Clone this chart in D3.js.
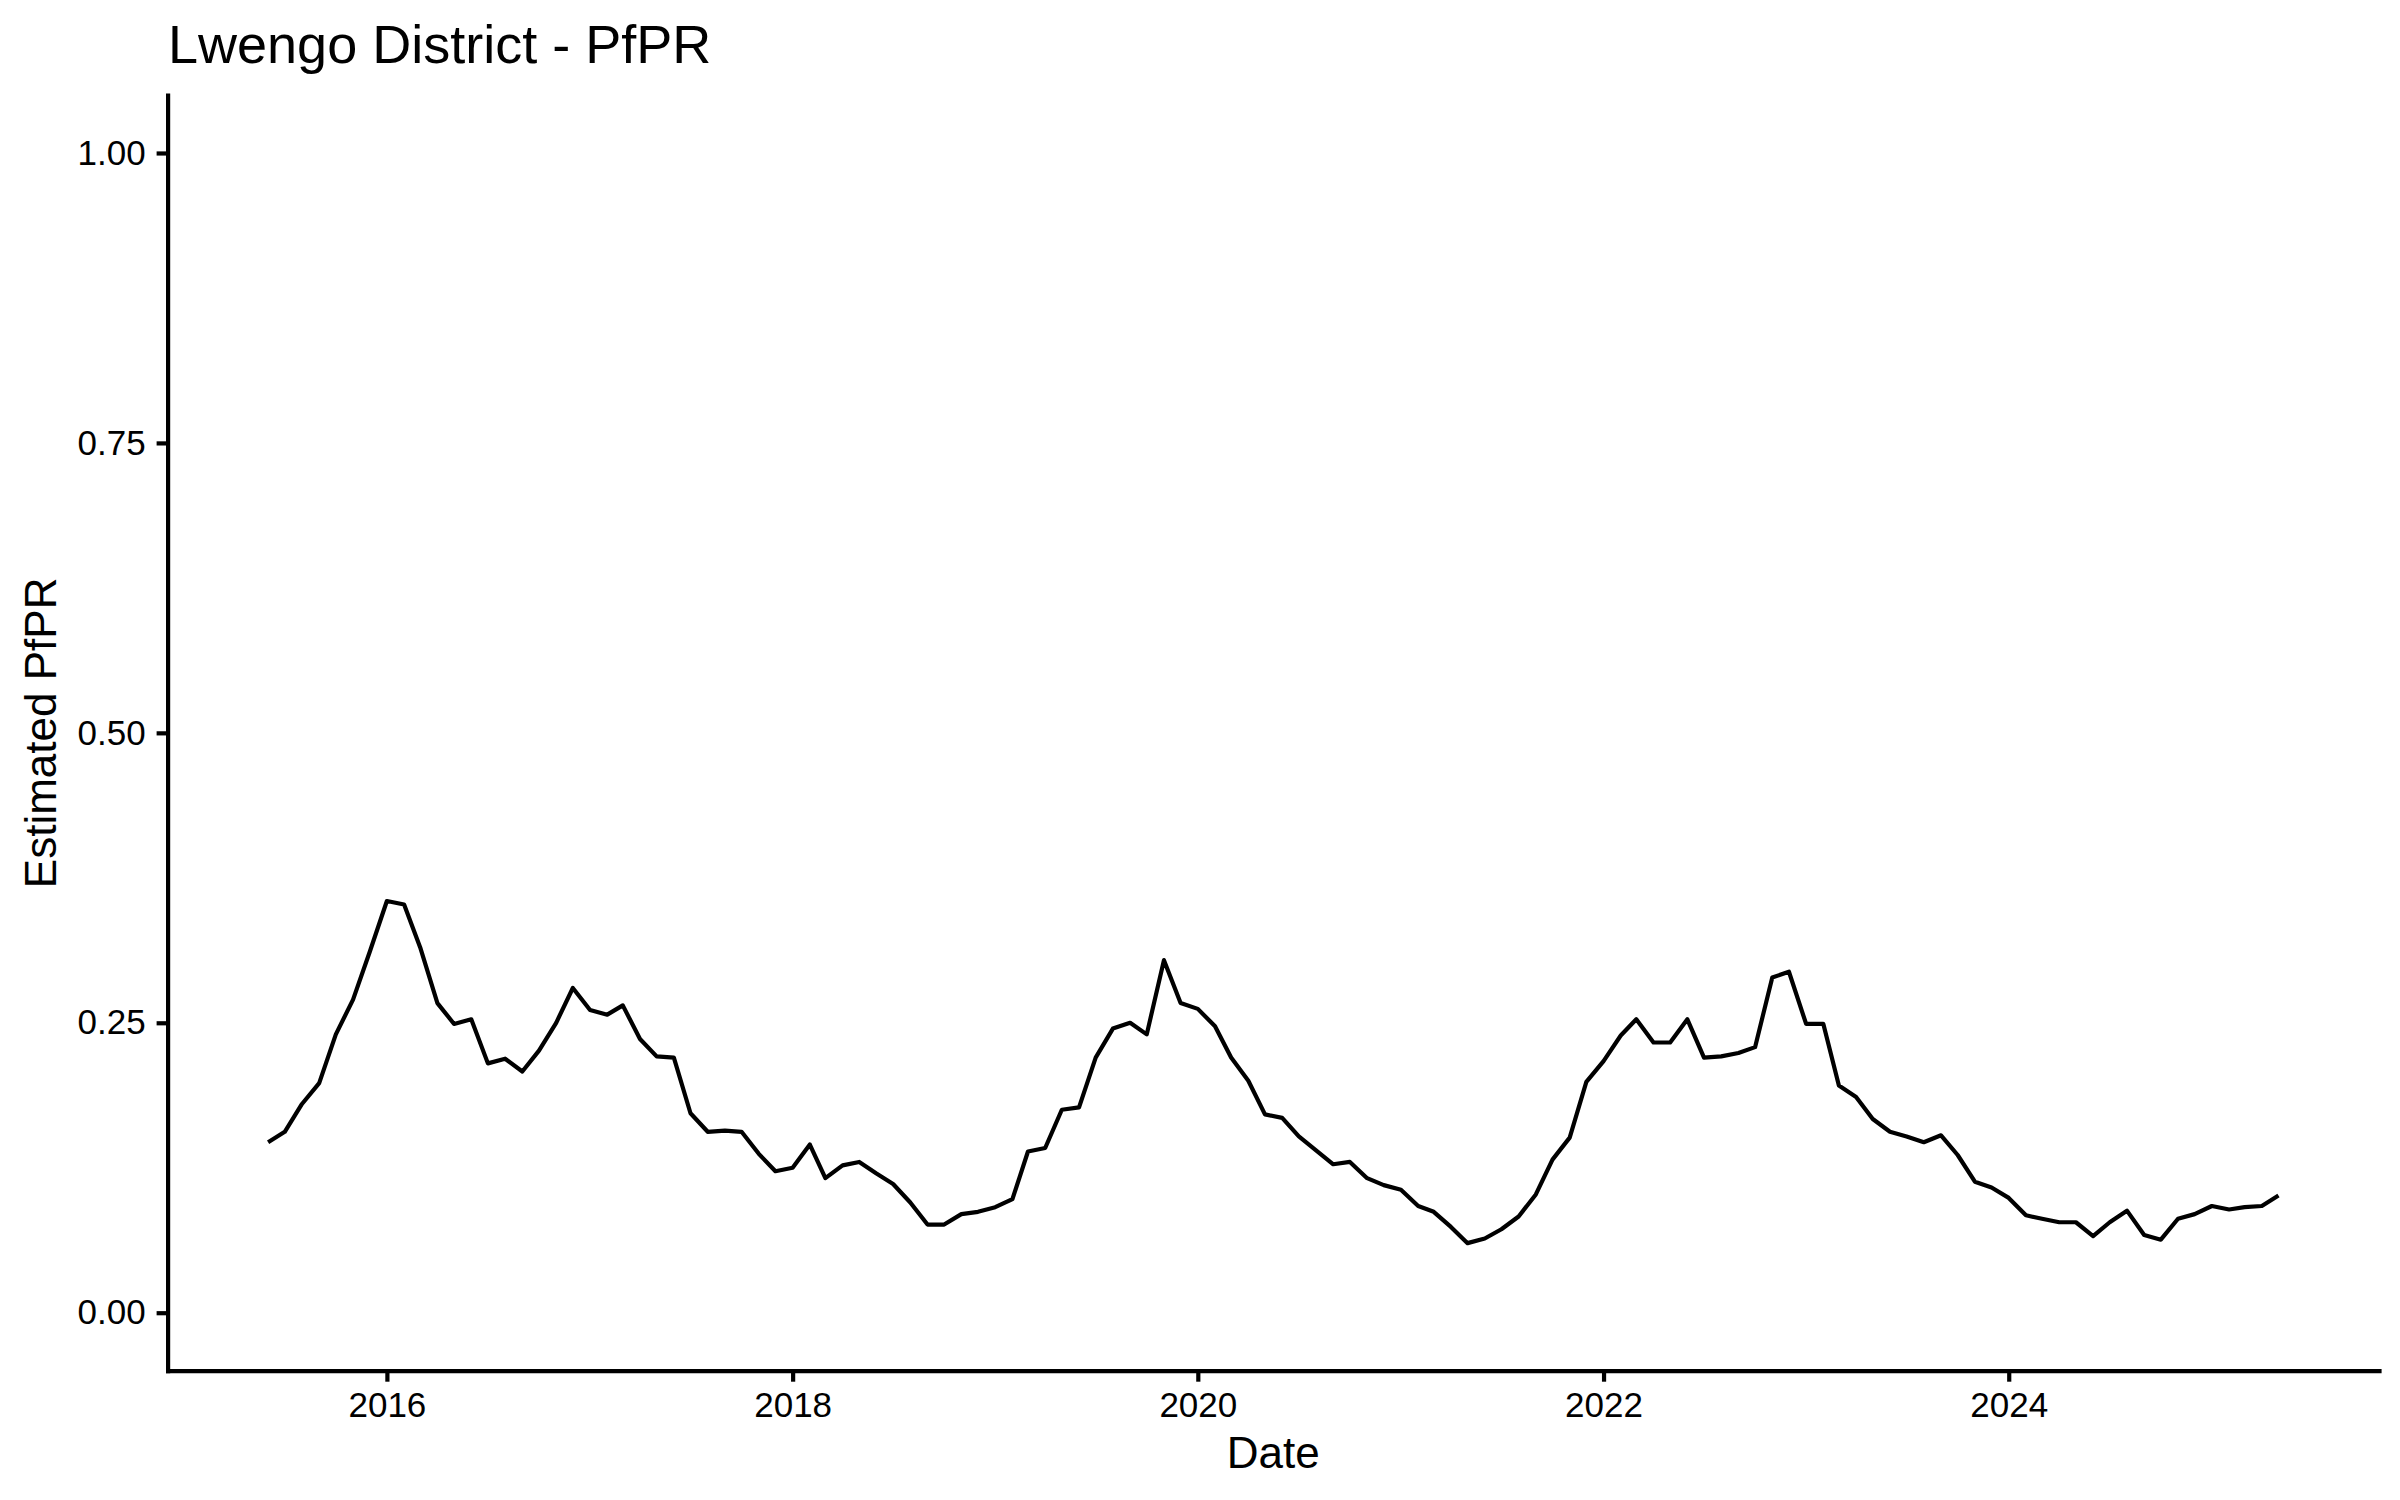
<!DOCTYPE html>
<html>
<head>
<meta charset="utf-8">
<script src="https://cdn.jsdelivr.net/npm/d3@7"></script>
<style>
  html, body { margin: 0; padding: 0; background: #fff; }
  svg { display: block; }
  text { font-family: "Liberation Sans", Arial, Helvetica, sans-serif; }
</style>
</head>
<body>
<svg id="chart" width="2400" height="1500"></svg>
<script>
// ---- data ----
const titleText = "Lwengo District - PfPR";
const xLabel = "Date";
const yLabel = "Estimated PfPR";
const firstMonth = "2015-06-01";
const lastMonth = "2025-05-01";
const pfprValues = [
  0.147,0.156,0.180,0.198,0.240,0.270,0.311,0.355,0.352,0.315,0.267,0.249,0.253,0.215,0.219,0.208,0.226,0.250,0.280,0.261,0.257,0.265,0.236,0.221,0.220,0.172,0.156,0.157,0.156,0.137,
  0.122,0.125,0.145,0.116,0.127,0.130,0.120,0.111,0.095,0.076,0.076,0.085,0.087,0.091,0.098,0.139,0.142,0.175,0.177,0.220,
  0.245,0.250,0.240,0.304,0.267,0.262,0.247,0.220,0.200,0.171,0.168,0.152,0.140,0.128,0.130,0.116,0.110,0.106,0.092,0.087,
  0.074,0.060,0.064,0.072,0.083,0.102,0.132,0.151,0.199,0.217,0.239,0.253,0.233,0.233,0.253,0.220,0.221,0.224,0.229,0.289,
  0.294,0.249,0.249,0.196,0.186,0.167,0.156,0.152,0.147,0.153,0.136,0.113,0.108,0.099,0.084,0.081,0.078,0.078,0.066,0.078,
  0.088,0.067,0.063,0.081,0.085,0.092,0.089,0.091,0.092,0.101
];
const yTicks = [0, 0.25, 0.5, 0.75, 1.0];
const xTickYears = [2016, 2018, 2020, 2022, 2024];

// ---- build ----
const parse = d3.utcParse("%Y-%m-%d");
const months = d3.utcMonth.range(parse(firstMonth), d3.utcMonth.offset(parse(lastMonth), 1));
const data = months.map((d, i) => ({ date: d, value: pfprValues[i] }));

const svg = d3.select("#chart");
const panel = { left: 167.6, right: 2379, top: 95, bottom: 1370.7 };

const t0 = +data[0].date, t1 = +data[data.length - 1].date;
const pad = (t1 - t0) * 0.05;
const x = d3.scaleUtc()
  .domain([new Date(t0 - pad), new Date(t1 + pad)])
  .range([panel.left, panel.right]);
const y = d3.scaleLinear()
  .domain([-0.05, 1.05])
  .range([panel.bottom, panel.top]);

// line
const line = d3.line().x(d => x(d.date)).y(d => y(d.value));
svg.append("path")
  .datum(data)
  .attr("fill", "none")
  .attr("stroke", "#000")
  .attr("stroke-width", 4.2)
  .attr("stroke-linejoin", "round")
  .attr("d", line);

// axes
const xAxis = d3.axisBottom(x)
  .tickValues(xTickYears.map(yr => Date.UTC(yr, 0, 1)))
  .tickFormat(d => d3.utcFormat("%Y")(new Date(d)))
  .tickSize(11).tickSizeOuter(0).tickPadding(10);
const gx = svg.append("g")
  .attr("transform", `translate(0,${panel.bottom})`)
  .call(xAxis);

const yAxis = d3.axisLeft(y)
  .tickValues(yTicks)
  .tickFormat(d3.format(".2f"))
  .tickSize(11).tickSizeOuter(0).tickPadding(11);
const gy = svg.append("g")
  .attr("transform", `translate(${panel.left},0)`)
  .call(yAxis);

[gx, gy].forEach(g => {
  g.select(".domain").attr("stroke", "#000").attr("stroke-width", 4.2).attr("stroke-linecap", "square");
  g.selectAll(".tick line").attr("stroke", "#000").attr("stroke-width", 4.2);
  g.selectAll(".tick text")
    .attr("fill", "#000")
    .style("font-family", "'Liberation Sans', Arial, sans-serif")
    .style("font-size", "35px");
});

// titles
svg.append("text")
  .attr("x", 168).attr("y", 62.7)
  .attr("fill", "#000")
  .style("font-size", "54px")
  .text(titleText);

svg.append("text")
  .attr("x", (panel.left + panel.right) / 2).attr("y", 1468)
  .attr("text-anchor", "middle")
  .attr("fill", "#000")
  .style("font-size", "44px")
  .text(xLabel);

svg.append("text")
  .attr("transform", `translate(56,${(panel.top + panel.bottom) / 2}) rotate(-90)`)
  .attr("text-anchor", "middle")
  .attr("fill", "#000")
  .style("font-size", "44px")
  .text(yLabel);
</script>
</body>
</html>
